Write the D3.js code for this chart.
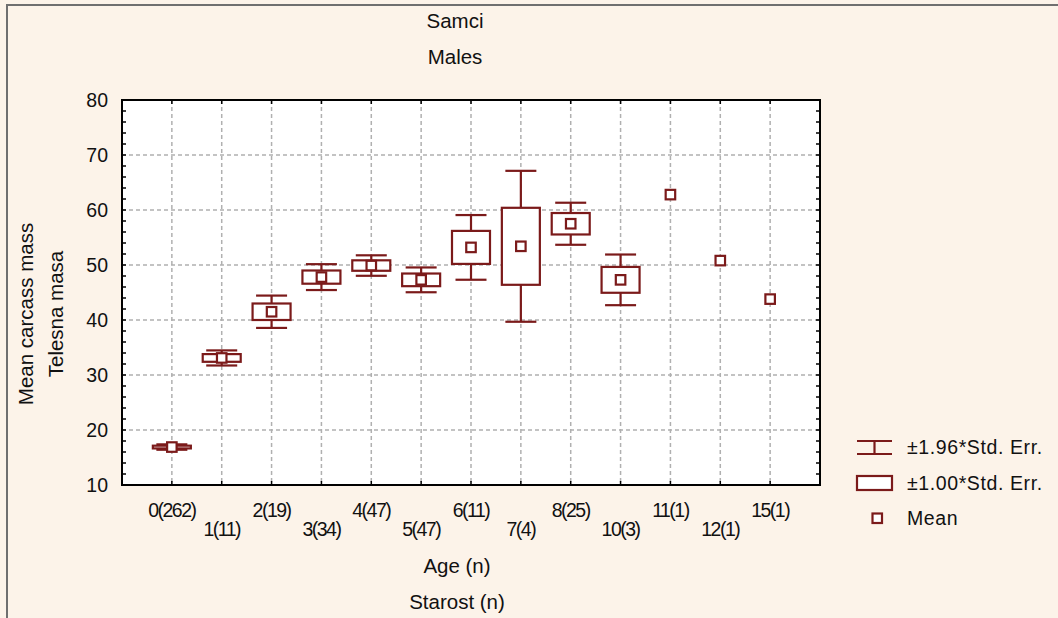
<!DOCTYPE html>
<html>
<head>
<meta charset="utf-8">
<script src="https://cdn.jsdelivr.net/npm/d3@7"></script>
<style>
  html, body { margin: 0; padding: 0; background: #fcf3e9; }
  svg { display: block; font-family: "Liberation Sans", Arial, sans-serif; }
</style>
</head>
<body>
<svg id="chart" width="1058" height="618"></svg>
<script>
// Age classes with sample size in brackets
const ageLabels = ["0(262)", "1(11)", "2(19)", "3(34)", "4(47)", "5(47)", "6(11)",
                   "7(4)", "8(25)", "10(3)", "11(1)", "12(1)", "15(1)"];
// Mean carcass mass per age class
const means = [16.9, 33.1, 41.5, 47.8, 49.9, 47.3, 53.2, 53.4, 57.5, 47.3, 62.8, 50.8, 43.8];
// Standard error of the mean (null where n = 1)
const stdErr = [0.25, 0.7, 1.5, 1.2, 0.95, 1.15, 3.0, 7.0, 1.95, 2.35, null, null, null];
const yTicks = [10, 20, 30, 40, 50, 60, 70, 80];

const titleLines = ["Samci", "Males"];
const xTitleLines = ["Age (n)", "Starost (n)"];
const yTitleLines = ["Mean carcass mass", "Telesna masa"];
const legendLabels = ["±1.96*Std. Err.", "±1.00*Std. Err.", "Mean"];

const markColor = "#7b1a1a";
const svg = d3.select("#chart");

const plot = { left: 122, right: 820, top: 100, bottom: 485 };

const x = d3.scalePoint().domain(ageLabels).range([plot.left, plot.right]).padding(1);
const y = d3.scaleLinear().domain([10, 80]).range([plot.bottom, plot.top]);

// outer frame of the figure
svg.append("path")
  .attr("d", `M7,618 V5 H1058`)
  .attr("fill", "none").attr("stroke", "#6f6f6f").attr("stroke-width", 2);

// plot background
svg.append("rect")
  .attr("x", plot.left).attr("y", plot.top)
  .attr("width", plot.right - plot.left).attr("height", plot.bottom - plot.top)
  .attr("fill", "#ffffff");

// dashed grid
const grid = svg.append("g").attr("stroke", "#b0b0b0").attr("stroke-width", 1.5)
  .attr("stroke-dasharray", "4,3");
grid.selectAll("line.h").data(yTicks.filter(t => t > 10 && t < 80)).join("line")
  .attr("x1", plot.left).attr("x2", plot.right)
  .attr("y1", d => y(d)).attr("y2", d => y(d));
grid.selectAll("line.v").data(ageLabels).join("line")
  .attr("x1", d => x(d)).attr("x2", d => x(d))
  .attr("y1", plot.top).attr("y2", plot.bottom);

// inner tick marks on all four sides
const minor = d3.range(10, 80.001, 2);
const ticks = svg.append("g").attr("stroke", "#000").attr("stroke-width", 1.5);
ticks.selectAll("line.l").data(minor).join("line")
  .attr("x1", plot.left).attr("x2", plot.left + 4)
  .attr("y1", d => y(d)).attr("y2", d => y(d));
ticks.selectAll("line.r").data(minor).join("line")
  .attr("x1", plot.right).attr("x2", plot.right - 4)
  .attr("y1", d => y(d)).attr("y2", d => y(d));
ticks.selectAll("line.t").data(ageLabels).join("line")
  .attr("x1", d => x(d)).attr("x2", d => x(d))
  .attr("y1", plot.top).attr("y2", plot.top + 4);
ticks.selectAll("line.b").data(ageLabels).join("line")
  .attr("x1", d => x(d)).attr("x2", d => x(d))
  .attr("y1", plot.bottom).attr("y2", plot.bottom - 4);

// frame
svg.append("rect")
  .attr("x", plot.left).attr("y", plot.top)
  .attr("width", plot.right - plot.left).attr("height", plot.bottom - plot.top)
  .attr("fill", "none").attr("stroke", "#000").attr("stroke-width", 2);

// y tick labels
svg.append("g").selectAll("text").data(yTicks).join("text")
  .attr("x", 108).attr("y", d => y(d) + 7)
  .attr("text-anchor", "end").attr("font-size", 19.5).attr("fill", "#111")
  .text(d => d);

// x tick labels, staggered on two rows
svg.append("g").selectAll("text").data(ageLabels).join("text")
  .attr("x", d => x(d))
  .attr("y", (d, i) => i % 2 === 0 ? 517 : 535.5)
  .attr("text-anchor", "middle").attr("font-size", 19.5)
  .attr("letter-spacing", -1.5).attr("fill", "#111")
  .text(d => d);

// means with standard error boxes and 1.96*SE whiskers
const boxHalf = 19, capHalf = 15.5, meanSize = 9.5;
const marks = svg.append("g").attr("stroke", markColor).attr("stroke-width", 2.2).attr("fill", "none");
ageLabels.forEach((lab, i) => {
  const cx = x(lab), m = means[i], se = stdErr[i];
  const g = marks.append("g");
  if (se != null) {
    const lo = y(m - 1.96 * se), hi = y(m + 1.96 * se);
    const bLo = y(m - se), bHi = y(m + se);
    g.append("line").attr("x1", cx).attr("x2", cx).attr("y1", hi).attr("y2", bHi);
    g.append("line").attr("x1", cx).attr("x2", cx).attr("y1", bLo).attr("y2", lo);
    g.append("line").attr("x1", cx - capHalf).attr("x2", cx + capHalf).attr("y1", hi).attr("y2", hi);
    g.append("line").attr("x1", cx - capHalf).attr("x2", cx + capHalf).attr("y1", lo).attr("y2", lo);
    g.append("rect").attr("x", cx - boxHalf).attr("y", bHi)
      .attr("width", boxHalf * 2).attr("height", bLo - bHi).attr("fill", "#fff");
  }
  g.append("rect").attr("x", cx - meanSize / 2).attr("y", y(m) - meanSize / 2)
    .attr("width", meanSize).attr("height", meanSize).attr("fill", "#fff");
});

// titles
svg.append("g").selectAll("text").data(titleLines).join("text")
  .attr("x", 455).attr("y", (d, i) => 28 + i * 36)
  .attr("text-anchor", "middle").attr("font-size", 20.5).attr("fill", "#111")
  .text(d => d);
svg.append("g").selectAll("text").data(xTitleLines).join("text")
  .attr("x", 457).attr("y", (d, i) => 573 + i * 36)
  .attr("text-anchor", "middle").attr("font-size", 20.5).attr("fill", "#111")
  .text(d => d);
svg.append("g").selectAll("text").data(yTitleLines).join("text")
  .attr("transform", (d, i) => `translate(${33 + i * 30},${314}) rotate(-90)`)
  .attr("text-anchor", "middle").attr("font-size", 20.5).attr("fill", "#111")
  .text(d => d);

// legend
const leg = svg.append("g");
const lg = leg.append("g").attr("stroke", markColor).attr("stroke-width", 2.2).attr("fill", "none");
lg.append("line").attr("x1", 857).attr("x2", 892).attr("y1", 441).attr("y2", 441);
lg.append("line").attr("x1", 857).attr("x2", 892).attr("y1", 454).attr("y2", 454);
lg.append("line").attr("x1", 874.5).attr("x2", 874.5).attr("y1", 441).attr("y2", 454);
lg.append("rect").attr("x", 857).attr("y", 476).attr("width", 35).attr("height", 14).attr("fill", "#fff");
lg.append("rect").attr("x", 872.5).attr("y", 513.5).attr("width", meanSize).attr("height", meanSize).attr("fill", "#fff");
leg.selectAll("text").data(legendLabels).join("text")
  .attr("x", 907).attr("y", (d, i) => 454 + i * 35.5)
  .attr("font-size", 19.5).attr("letter-spacing", 0.6).attr("fill", "#111")
  .text(d => d);
</script>
</body>
</html>
